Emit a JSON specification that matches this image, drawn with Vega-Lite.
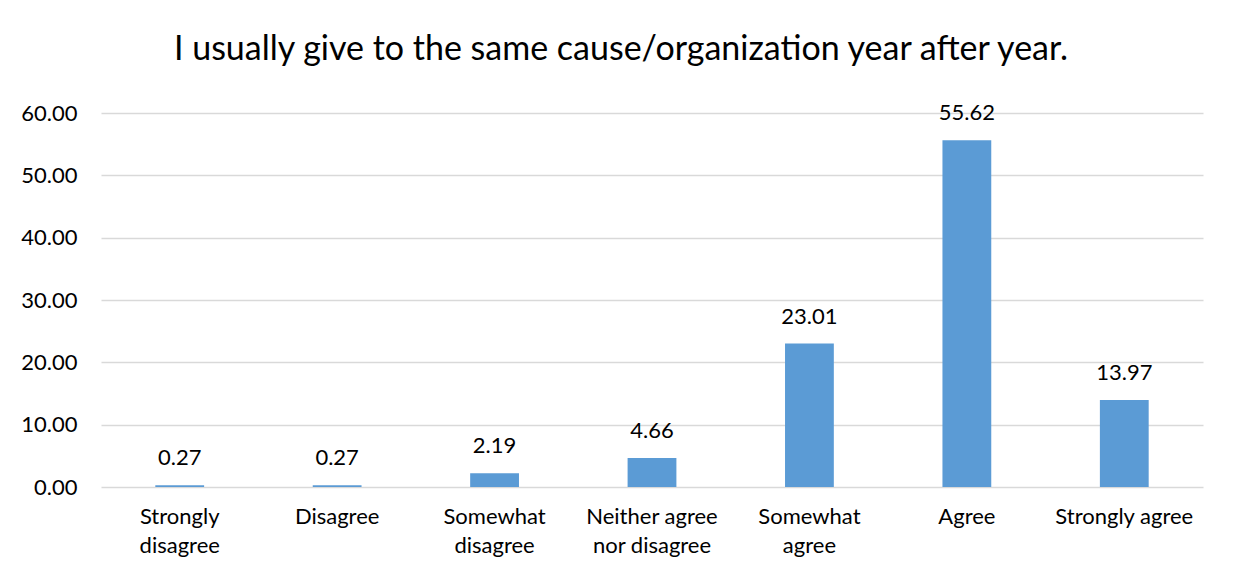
{
  "$schema": "https://vega.github.io/schema/vega-lite/v6.json",
  "autosize": "none",
  "width": 1102,
  "height": 374,
  "padding": {"left": 101, "top": 113, "right": 34, "bottom": 90},
  "background": "white",
  "config": {"view": {"stroke": null}, "font": "Lato"},
  "title": {
    "text": "I usually give to the same cause/organization year after year.",
    "fontSize": 34,
    "fontWeight": "normal",
    "color": "#000000",
    "font": "Lato",
    "offset": 35,
    "dx": -31
  },
  "data": {
    "values": [
      {"response": "Strongly disagree", "pct": 0.27},
      {"response": "Disagree", "pct": 0.27},
      {"response": "Somewhat disagree", "pct": 2.19},
      {"response": "Neither agree nor disagree", "pct": 4.66},
      {"response": "Somewhat agree", "pct": 23.01},
      {"response": "Agree", "pct": 55.62},
      {"response": "Strongly agree", "pct": 13.97}
    ]
  },
  "encoding": {
    "x": {
      "field": "response",
      "type": "nominal",
      "sort": null,
      "scale": {"paddingInner": 0.69, "paddingOuter": 0.345},
      "axis": {
        "title": null,
        "labelAngle": 0,
        "labelFontSize": 22,
        "labelColor": "#000000",
        "labelPadding": 19,
        "labelLineHeight": 29,
        "labelBaseline": "top",
        "domain": false,
        "ticks": false,
        "labelExpr": "datum.value == 'Strongly disagree' ? ['Strongly', 'disagree'] : datum.value == 'Somewhat disagree' ? ['Somewhat', 'disagree'] : datum.value == 'Neither agree nor disagree' ? ['Neither agree', 'nor disagree'] : datum.value == 'Somewhat agree' ? ['Somewhat', 'agree'] : datum.value"
      }
    },
    "y": {
      "field": "pct",
      "type": "quantitative",
      "scale": {"domain": [0, 60], "nice": false},
      "axis": {
        "title": null,
        "values": [0, 10, 20, 30, 40, 50, 60],
        "format": ".2f",
        "labelFontSize": 22,
        "labelColor": "#000000",
        "labelPadding": 24,
        "domain": false,
        "ticks": false,
        "gridColor": "#d9d9d9",
        "gridWidth": 1.5
      }
    }
  },
  "layer": [
    {"mark": {"type": "bar", "color": "#5B9BD5"}},
    {
      "mark": {"type": "text", "baseline": "bottom", "dy": -15, "fontSize": 22, "color": "#000000"},
      "encoding": {"text": {"field": "pct", "type": "quantitative", "format": ".2f"}}
    }
  ]
}
